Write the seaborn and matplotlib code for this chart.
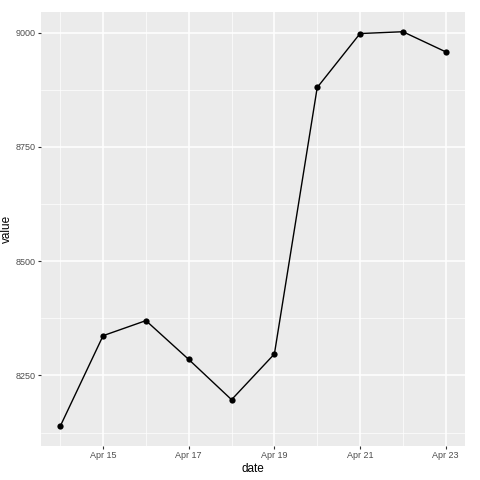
import pandas as pd
import numpy as np
import seaborn as sns
import matplotlib.pyplot as plt
import matplotlib.dates as mdates
from matplotlib.ticker import MultipleLocator

# values
dates = pd.date_range('2018-04-14', '2018-04-23', freq='D')
values = [8139, 8337, 8370, 8285, 8197, 8297, 8880, 8998, 9002, 8958]

df = pd.DataFrame({'date': dates, 'value': values})

sns.set_theme(style='darkgrid', rc={
    'axes.facecolor': '#EBEBEB',
    'grid.color': 'white',
    'axes.edgecolor': '#EBEBEB',
})
plt.rcParams['font.family'] = ['Liberation Sans', 'DejaVu Sans']

fig = plt.figure(figsize=(4.8, 4.8), dpi=100)
ax = fig.add_axes([0.0854, 0.071, 0.8833, 0.904])

sns.lineplot(data=df, x='date', y='value', color='black', linewidth=1.0,
             marker='o', markersize=4.5, markeredgewidth=0, ax=ax)

# ggplot-like 5% expansion
span = dates[-1] - dates[0]
ax.set_xlim(dates[0] - span * 0.05, dates[-1] + span * 0.05)
lo, hi = min(values), max(values)
pad = (hi - lo) * 0.05
ax.set_ylim(lo - pad, hi + pad)

ax.xaxis.set_major_locator(mdates.DayLocator(bymonthday=[15, 17, 19, 21, 23]))
ax.xaxis.set_minor_locator(mdates.DayLocator(bymonthday=[14, 16, 18, 20, 22]))
ax.xaxis.set_major_formatter(mdates.DateFormatter('%b %d'))
ax.yaxis.set_major_locator(MultipleLocator(250))
ax.yaxis.set_minor_locator(MultipleLocator(125))

ax.grid(which='major', color='white', linewidth=1.1)
ax.grid(which='minor', color='white', linewidth=0.5)
ax.tick_params(which='major', length=2.5, width=0.8, color='#333333',
               labelsize=6.5, labelcolor='#4D4D4D', pad=1.5, bottom=True, left=True)
ax.tick_params(which='minor', length=0)
for s in ax.spines.values():
    s.set_visible(False)

ax.set_xlabel('date', fontsize=8.5, color='black', labelpad=1.5)
ax.set_ylabel('value', fontsize=8.5, color='black', labelpad=1.5)

fig.savefig('out.png', dpi=100)
